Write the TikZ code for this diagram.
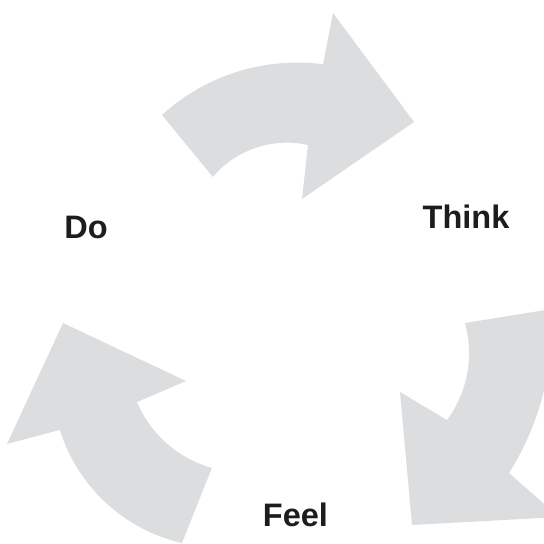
\documentclass[tikz,border=0pt]{standalone}
\usepackage{fontspec}
\setmainfont{Liberation Sans}
\definecolor{arrowgray}{RGB}{220,221,223}
\definecolor{labelink}{RGB}{30,28,28}
\begin{document}
\begin{tikzpicture}[x=1pt,y=-1pt,
  cyclearrow/.style={fill=arrowgray,draw=none},
  steplabel/.style={inner sep=0pt,text=labelink,font=\bfseries\fontsize{32.5}{36}\selectfont}]
\useasboundingbox (0,0) rectangle (544,544);
\begin{scope}
\clip (0,0) rectangle (544,544);
% top arrow (Do -> Think)
\fill[cyclearrow] (162,115) arc[start angle=-132.4,end angle=-82.6,radius=200.5]
  -- (333,13) -- (414,122) -- (302,199) -- (308,145)
  arc[start angle=-77.5,end angle=-139.6,radius=97.3] -- cycle;
% right arrow (Think -> Feel)
\fill[cyclearrow] (465,323) -- (552,309)
  arc[start angle=-2.73,end angle=32.1,radius=283.3]
  -- (559,517) -- (412,525) -- (400,392) -- (447,420)
  arc[start angle=36.5,end angle=-15.5,radius=112.6] -- cycle;
% left arrow (Feel -> Do)
\fill[cyclearrow] (63,323) -- (186,381) -- (137,402)
  arc[start angle=157.2,end angle=105.5,radius=114.4]
  -- (182,543) arc[start angle=102.9,end angle=162.7,radius=167]
  -- (7,444) -- cycle;
\end{scope}
\node[steplabel] (do) at (86,227.5) {Do};
\node[steplabel] (think) at (466,216.5) {Think};
\node[steplabel] (feel) at (295.5,514.5) {Feel};
\end{tikzpicture}
\end{document}
